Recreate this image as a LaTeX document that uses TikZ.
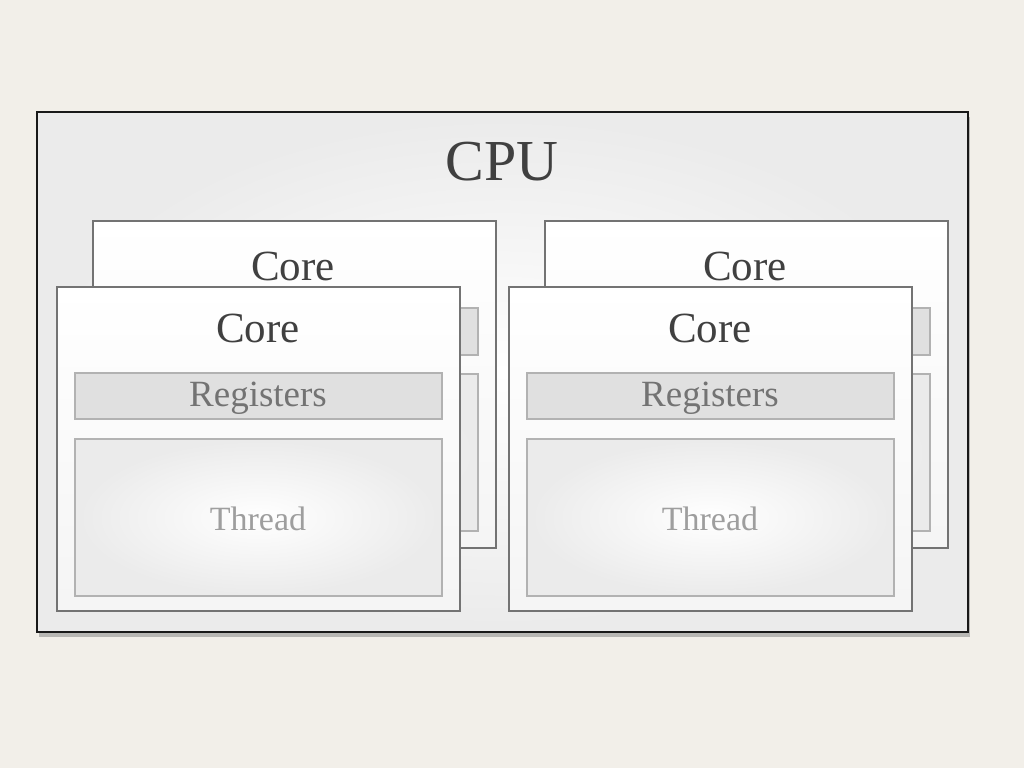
\documentclass[tikz,border=0pt]{standalone}
\usepackage{fontspec}
\setmainfont{Liberation Serif}
\usetikzlibrary{shadows}
\begin{document}
\begin{tikzpicture}[x=1pt,y=-1pt,
 corebox/.style={draw=black!55,line width=1.5pt,fill=white,top color=white,bottom color=black!4},
 regbox/.style={draw=black!30,line width=1.5pt,fill=black!12},
 thrbox/.style={draw=black!30,line width=1.5pt,inner color=white,outer color=black!8},
 coretxt/.style={font=\fontsize{43}{46}\selectfont,text=black!75},
 regtxt/.style={font=\fontsize{37}{40}\selectfont,text=black!55},
 thrtxt/.style={font=\fontsize{34}{38}\selectfont,text=black!38}]
\fill[color={rgb,255:red,242;green,239;blue,233}] (0,0) rectangle (1024,768);
\useasboundingbox (0,0) rectangle (1024,768);
\draw[line width=2pt,draw=black!90,inner color=white,outer color=black!8,drop shadow={shadow xshift=2pt,shadow yshift=-5pt,opacity=0.5}] (37,112) rectangle (968,632);
\node[font=\fontsize{58}{62}\selectfont,text=black!75] (cpu) at (502,162) {CPU};
\foreach \dx/\n in {0/a,452/b}{
 \begin{scope}[xshift=\dx]
 \draw[corebox] (93,221) rectangle (496,548);
 \node[coretxt] (bc\n) at (293,266) {Core};
 \draw[regbox] (111,308) rectangle (478,355);
 \draw[thrbox] (111,374) rectangle (478,531);
 \draw[corebox] (57,287) rectangle (460,611);
 \node[coretxt] (fc\n) at (258,328) {Core};
 \draw[regbox] (75,373) rectangle (442,419);
 \node[regtxt] (r\n) at (258,398) {Registers};
 \draw[thrbox] (75,439) rectangle (442,596);
 \node[thrtxt] (t\n) at (258,519) {Thread};
 \end{scope}}
\end{tikzpicture}
\end{document}
